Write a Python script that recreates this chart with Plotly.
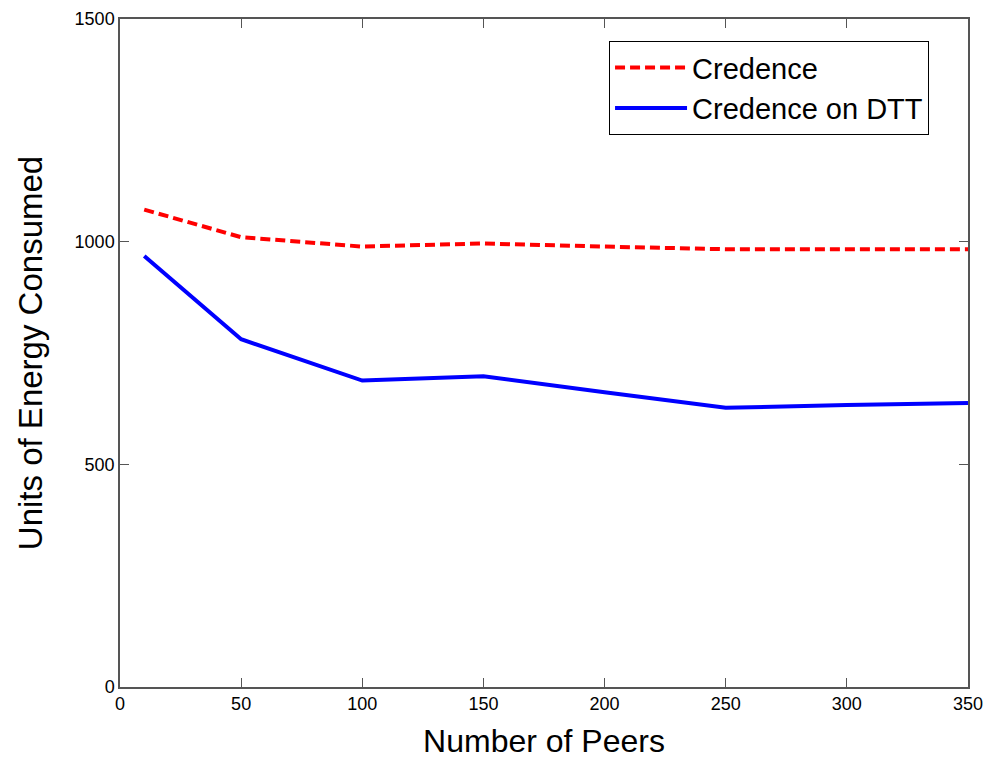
import plotly.graph_objects as go

peers = [10, 50, 100, 150, 200, 250, 300, 350]
credence = [1072, 1010, 989, 996, 989, 983, 983, 983]
credence_dtt = [968, 781, 688, 698, 662, 627, 633, 638]

x_ticks = [0, 50, 100, 150, 200, 250, 300, 350]
y_ticks = [0, 500, 1000, 1500]

FONT = "Liberation Sans, Arial, Helvetica, sans-serif"

fig = go.Figure()
fig.add_trace(go.Scatter(
    x=peers, y=credence, mode="lines", name="Credence",
    line=dict(color="#ff0000", width=4, dash="10px,5px"),
))
fig.add_trace(go.Scatter(
    x=peers, y=credence_dtt, mode="lines", name="Credence on DTT",
    line=dict(color="#0000ff", width=4),
))

axis_common = dict(
    showgrid=False, zeroline=False, showline=True, linecolor="#555555", linewidth=1.5,
    mirror="ticks", ticks="inside", ticklen=9, tickwidth=1, tickcolor="#555555",
    tickfont=dict(family=FONT, size=18, color="black"), automargin=False,
)

fig.update_layout(
    width=987, height=759,
    margin=dict(l=120, r=19, t=19, b=72, autoexpand=False),
    paper_bgcolor="white", plot_bgcolor="white",
    font=dict(family=FONT, color="black"),
    xaxis=dict(range=[0, 350], tickvals=x_ticks,
               title=dict(text="Number of Peers", font=dict(size=32, family=FONT), standoff=23),
               **axis_common),
    yaxis=dict(range=[0, 1500], tickvals=y_ticks,
               title=dict(text="Units of Energy Consumed", font=dict(size=33, family=FONT), standoff=22),
               **axis_common),
    legend=dict(x=0.5767, y=0.967, xanchor="left", yanchor="top",
                bgcolor="white", bordercolor="black", borderwidth=1,
                font=dict(size=29, family=FONT, color="black"),
                itemwidth=72, tracegroupgap=0),
    showlegend=True,
)

fig.write_html("out.html")
